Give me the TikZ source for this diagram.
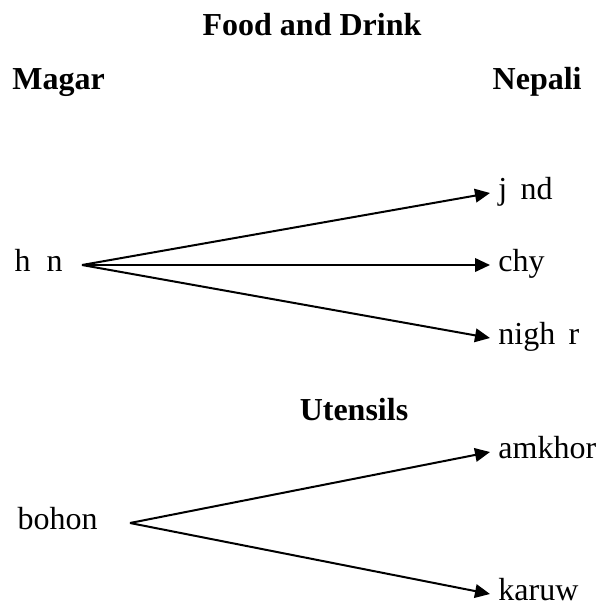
\documentclass[tikz,border=0pt]{standalone}
\usepackage{fontspec}
\setmainfont{Liberation Serif}
\usetikzlibrary{arrows.meta}
\newcommand{\wsize}{\fontsize{16}{19}\selectfont}

\begin{document}
\begin{tikzpicture}[x=0.5pt,y=-0.5pt,
  word/.style={font=\wsize, text height=9.8pt, text depth=3.4pt},
  src/.style={word, anchor=east},
  dst/.style={word, anchor=west, inner xsep=4pt},
  head/.style={font=\wsize\bfseries, inner sep=0pt},
  link/.style={line width=1pt, -{Triangle[length=7.5pt,width=6.8pt]}}]
\useasboundingbox (0,0) rectangle (599,607);
\node[head, anchor=base] (food) at (312,35) {Food and Drink};
\node[head, anchor=base west] (magar) at (12,89) {Magar};
\node[head, anchor=base east] (nepali) at (582,89) {Nepali};
\node[src, inner xsep=9.5pt] (han) at (82,265) {h\ \ n};
\node[dst] (jand) at (490,193) {j\ \,nd};
\node[dst] (chy) at (490,265) {chy};
\node[dst] (nighar) at (490,338) {nigh\ \,r};
\node[head, anchor=base] (utensils) at (354,420) {Utensils};
\node[src, inner xsep=16pt] (bohon) at (130,523) {bohon};
\node[dst] (amkhor) at (490,452) {amkhor};
\node[dst] (karuw) at (490,594) {karuw};
\draw[link] (han.east) -- (jand.west);
\draw[link] (han.east) -- (chy.west);
\draw[link] (han.east) -- (nighar.west);
\draw[link] (bohon.east) -- (amkhor.west);
\draw[link] (bohon.east) -- (karuw.west);
\end{tikzpicture}
\end{document}
